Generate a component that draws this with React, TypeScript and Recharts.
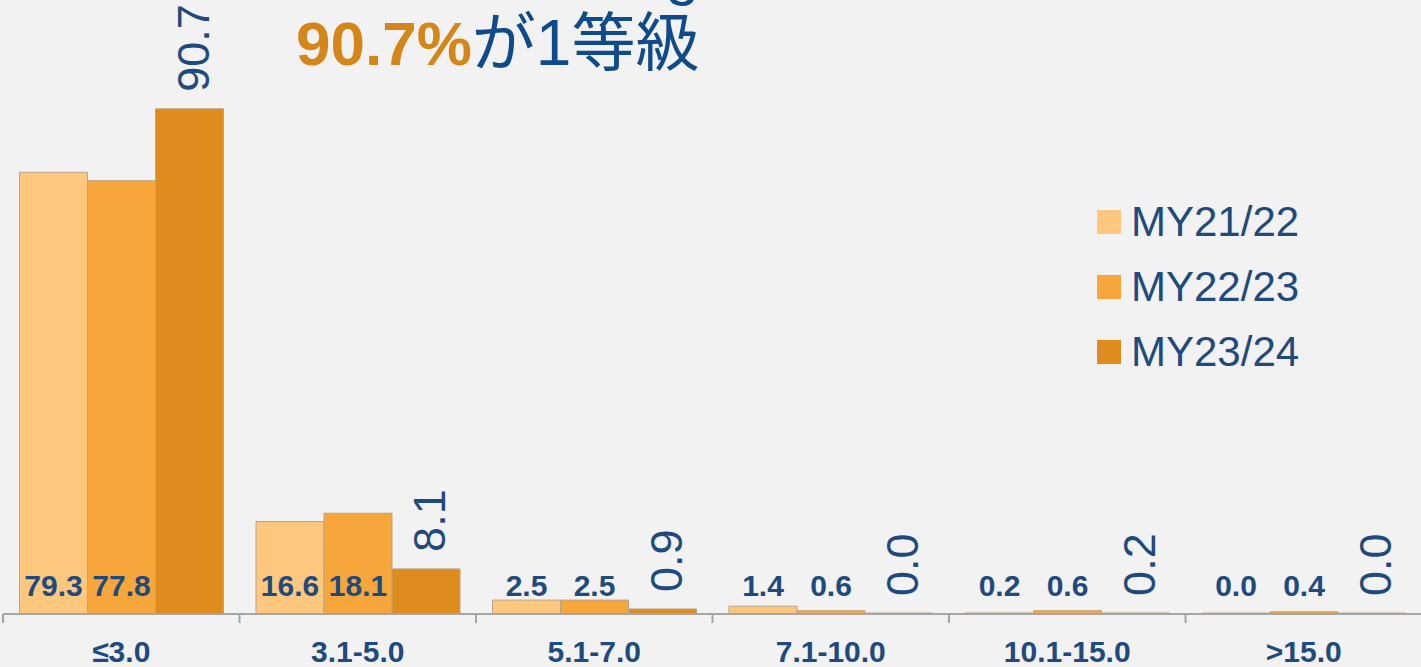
import React from 'react';
import { BarChart, Bar, XAxis, YAxis, Legend, LabelList } from 'recharts';

const categories = ['≤3.0', '3.1-5.0', '5.1-7.0', '7.1-10.0', '10.1-15.0', '>15.0'];
const my2122 = [79.3, 16.6, 2.5, 1.4, 0.2, 0.0];
const my2223 = [77.8, 18.1, 2.5, 0.6, 0.6, 0.4];
const my2324 = [90.7, 8.1, 0.9, 0.0, 0.2, 0.0];
const seriesNames = ['MY21/22', 'MY22/23', 'MY23/24'];
const titleHighlight = '90.7%';
const titleRest = 'が1等級';

const colors = ['#fec77e', '#f6a63b', '#de8c1e'];
const textBlue = '#1f4a7d';
const FONT = '"Liberation Sans", Arial, "Noto Sans CJK JP", sans-serif';

const data = categories.map((c, i) => ({
  cat: c,
  a: my2122[i],
  b: my2223[i],
  c: my2324[i],
}));

const CHART_W = 1422;
const CHART_H = 667;
const M_LEFT = 3;
const PLOT_W = CHART_W - M_LEFT;
const BAND = PLOT_W / categories.length;

const getBox = (p: any) => {
  const vb = p.viewBox || {};
  const x = p.x ?? vb.x;
  const y = p.y ?? vb.y;
  const width = p.width ?? vb.width;
  const height = p.height ?? vb.height;
  return { x: Number(x), y: Number(y), width: Number(width), height: Number(height) };
};

const InsideBottomLabel = (p: any) => {
  const { x, y, width, height } = getBox(p);
  const v = Number(p.value);
  return (
    <text
      x={x + width / 2}
      y={y + height - 18}
      textAnchor="middle"
      fontFamily={FONT}
      fontWeight="bold"
      fontSize={30}
      fill={textBlue}
    >
      {v.toFixed(1)}
    </text>
  );
};

const RotatedTopLabel = (p: any) => {
  const { x, y, width } = getBox(p);
  const v = Number(p.value);
  const cx = x + width / 2 + 19;
  const ty = y - 17;
  return (
    <text
      transform={`translate(${cx},${ty}) rotate(-90)`}
      textAnchor="start"
      fontFamily={'"Liberation Sans Narrow", "Arial Narrow", ' + FONT}
      fontSize={45}
      fill={textBlue}
    >
      {v.toFixed(1)}
    </text>
  );
};

const CategoryTick = (p: any) => {
  const { x, payload } = p;
  const axisY = 614;
  return (
    <g>
      <line x1={x - BAND / 2} x2={x - BAND / 2} y1={axisY} y2={axisY + 9} stroke="#a6a6a6" strokeWidth={2} />
      <text
        x={x}
        y={662}
        textAnchor="middle"
        fontFamily={FONT}
        fontWeight="bold"
        fontSize={30}
        fill={textBlue}
      >
        {payload.value}
      </text>
    </g>
  );
};

const LegendContent = () => (
  <div style={{ fontFamily: FONT }}>
    {seriesNames.map((n, i) => (
      <div key={n} style={{ display: 'flex', alignItems: 'center', height: 65 }}>
        <div style={{ width: 24, height: 24, background: colors[i], marginRight: 10 }} />
        <span style={{ fontSize: 42, color: textBlue, lineHeight: 1 }}>{n}</span>
      </div>
    ))}
  </div>
);

export default function App() {
  return (
    <div
      style={{
        position: 'absolute',
        left: 0,
        top: 0,
        width: 1421,
        height: 667,
        overflow: 'hidden',
        background: '#f2f2f2',
      }}
    >
      <BarChart
        width={CHART_W}
        height={CHART_H}
        data={data}
        margin={{ top: 57, right: 0, left: M_LEFT, bottom: 0 }}
        barCategoryGap={16.5}
        barGap={0}
      >
        <YAxis hide domain={[0, 100]} />
        <XAxis
          dataKey="cat"
          height={53}
          interval={0}
          axisLine={{ stroke: '#a6a6a6', strokeWidth: 2 }}
          tickLine={false}
          tick={<CategoryTick />}
        />
        <Legend
          layout="vertical"
          verticalAlign="middle"
          align="center"
          content={<LegendContent />}
          wrapperStyle={{ position: 'absolute', left: 1097, top: 189, width: 260 }}
        />
        <Bar dataKey="a" name={seriesNames[0]} fill={colors[0]} stroke="#b8a58c" strokeWidth={1} minPointSize={1} isAnimationActive={false}>
          <LabelList dataKey="a" content={<InsideBottomLabel />} />
        </Bar>
        <Bar dataKey="b" name={seriesNames[1]} fill={colors[1]} stroke="#b8a58c" strokeWidth={1} minPointSize={1} isAnimationActive={false}>
          <LabelList dataKey="b" content={<InsideBottomLabel />} />
        </Bar>
        <Bar dataKey="c" name={seriesNames[2]} fill={colors[2]} stroke="#b8a58c" strokeWidth={1} minPointSize={1} isAnimationActive={false}>
          <LabelList dataKey="c" content={<RotatedTopLabel />} />
        </Bar>
      </BarChart>
      <svg
        width={1421}
        height={667}
        style={{ position: 'absolute', left: 0, top: 0, pointerEvents: 'none' }}
      >
        <text x={665} y={-7} fontFamily={FONT} fontSize={62} fill="#0f4a8a">g</text>
        <text x={296} y={65} fontFamily={FONT} fontSize={62}>
          <tspan fill="#d4861a" fontWeight="bold">{titleHighlight}</tspan>
          <tspan fill="#0f4a8a" fontSize={64} fontFamily={'"Liberation Sans", "Noto Sans CJK JP", sans-serif'}>{titleRest}</tspan>
        </text>
      </svg>
    </div>
  );
}
